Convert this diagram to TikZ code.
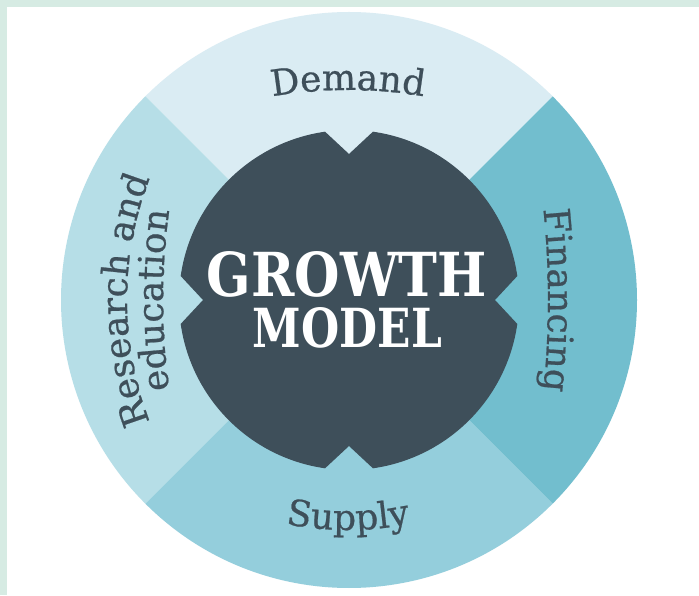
\documentclass[tikz,border=0pt]{standalone}
\usepackage{fontspec}
\setmainfont{DejaVu Serif}
\newfontfamily\lblfam{DejaVu Serif}[FakeBold=0.6]
\usetikzlibrary{decorations.text}
\definecolor{mintborder}{HTML}{D6EBE3}
\definecolor{secTop}{HTML}{DAECF3}
\definecolor{secLeft}{HTML}{B6DEE7}
\definecolor{secBottom}{HTML}{94CEDC}
\definecolor{secRight}{HTML}{72BECE}
\definecolor{darkcore}{HTML}{3E4F5A}
\newcommand{\lblfont}{\lblfam\fontsize{36}{36}\selectfont}
\tikzset{
  arclabel/.style={decorate, decoration={text along path, text align=center,
    text color=darkcore, text={|\lblfont|#1}}},
  titletext/.style={text=white, inner sep=0pt, font=\bfseries}
}
\begin{document}
\begin{tikzpicture}[x=1pt,y=1pt]
\useasboundingbox (0,0) rectangle (699,595);
\fill[mintborder] (0,0) rectangle (699,595);
\fill[white] (7,0) rectangle (699,588);
\coordinate (C) at (349,295);
% sectors
\fill[secTop, shift={(C)}] (0,0) -- (45:288) arc[start angle=45, end angle=135, radius=288] -- cycle;
\fill[secLeft, shift={(C)}] (0,0) -- (135:288) arc[start angle=135, end angle=225, radius=288] -- cycle;
\fill[secBottom, shift={(C)}] (0,0) -- (225:288) arc[start angle=225, end angle=315, radius=288] -- cycle;
\fill[secRight, shift={(C)}] (0,0) -- (-45:288) arc[start angle=-45, end angle=45, radius=288] -- cycle;
% dark core with notches
\fill[darkcore, shift={(C)}]
  (81.9:170) -- (90:146) -- (98.1:170)
  arc[start angle=98.1, end angle=171.9, radius=170]
  -- (180:146) -- (188.1:170)
  arc[start angle=188.1, end angle=261.9, radius=170]
  -- (270:146) -- (278.1:170)
  arc[start angle=278.1, end angle=351.9, radius=170]
  -- (0:146) -- (8.1:170)
  arc[start angle=8.1, end angle=81.9, radius=170] -- cycle;
% title
\node[titletext] (growth) at (347,320.5) {\resizebox{280pt}{45pt}{GROWTH}};
\node[titletext] (model) at (347.5,267.5) {\resizebox{189pt}{40pt}{MODEL}};
% curved labels
\path[shift={(348,55)}, arclabel=Demand] (105:450) arc[start angle=105, end angle=75, radius=450];
\path[shift={(-352,295)}, arclabel=Financing] (12:900) arc[start angle=12, end angle=-12, radius=900];
\path[shift={(348,385)}, arclabel=Supply] (250:320) arc[start angle=250, end angle=290, radius=320];
\path[shift={(462,295)}, arclabel=Research and] (205:335) arc[start angle=205, end angle=155, radius=335];
\path[shift={(803,295)}, arclabel=education] (190:640) arc[start angle=190, end angle=170, radius=640];
\end{tikzpicture}
\end{document}
